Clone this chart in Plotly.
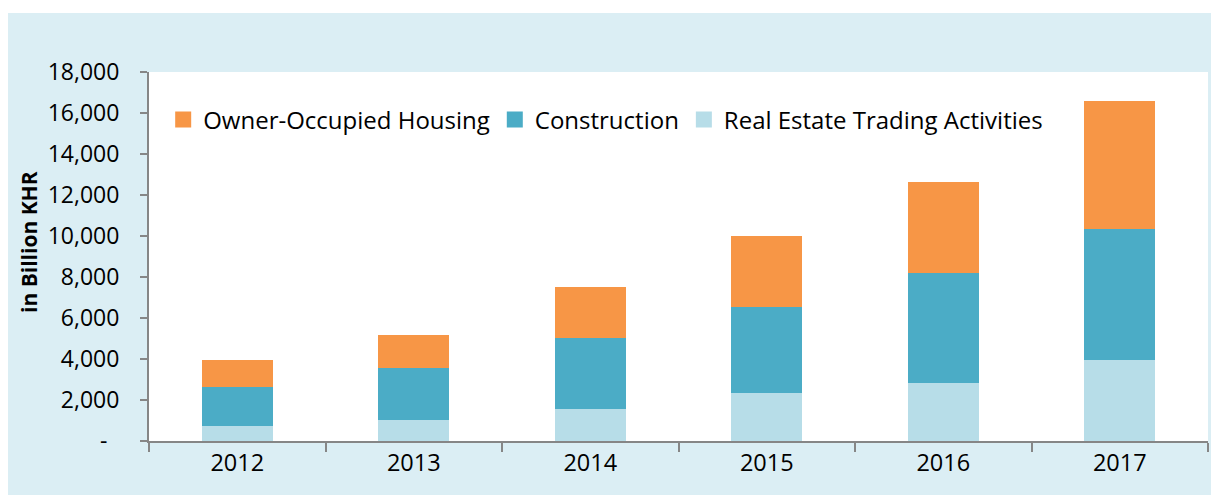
import plotly.graph_objects as go

years = ["2012", "2013", "2014", "2015", "2016", "2017"]
real_estate = [730, 1010, 1560, 2350, 2840, 3960]
construction = [1910, 2570, 3480, 4190, 5360, 6360]
owner_occupied = [1320, 1590, 2480, 3480, 4440, 6280]

y_tickvals = [0, 2000, 4000, 6000, 8000, 10000, 12000, 14000, 16000, 18000]
y_ticktext = ["-\u00a0\u00a0", "2,000", "4,000", "6,000", "8,000", "10,000",
              "12,000", "14,000", "16,000", "18,000"]

FONT = "Open Sans"
series = [
    ("Real Estate Trading Activities", real_estate, "#B7DDE8"),
    ("Construction", construction, "#4BACC6"),
    ("Owner-Occupied Housing", owner_occupied, "#F79646"),
]

fig = go.Figure()
for name, vals, color in series:
    fig.add_trace(go.Bar(x=years, y=vals, name=name, showlegend=False,
                         marker=dict(color=color, line=dict(width=0))))
# legend entries with larger square swatches
for name, vals, color in series:
    fig.add_trace(go.Scatter(x=[None], y=[None], mode="markers", name=name,
                             marker=dict(symbol="square", size=16, color=color),
                             showlegend=True, hoverinfo="skip"))

PW, PH = 1059, 369
fig.update_layout(
    width=1211, height=487,
    barmode="stack", bargap=0.6,
    paper_bgcolor="#DBEEF4", plot_bgcolor="white",
    margin=dict(l=141, r=11, t=64, b=54, pad=0),
    font=dict(family=FONT, size=23, color="black"),
    showlegend=True,
    legend=dict(orientation="h", traceorder="reversed", x=0.0134, y=0.870,
                xanchor="left", yanchor="middle", bgcolor="rgba(0,0,0,0)",
                font=dict(size=24), itemwidth=30, itemsizing="trace"),
    xaxis=dict(showline=True, linecolor="#868686", linewidth=2, ticks="outside",
               tickson="boundaries", ticklen=9, tickcolor="#868686", tickwidth=2,
               showgrid=False, tickfont=dict(size=23.5)),
    yaxis=dict(range=[0, 18000], tickvals=y_tickvals, ticktext=y_ticktext,
               showline=True, linecolor="#868686", linewidth=2, ticks="outside",
               ticklen=7, tickcolor="#868686", tickwidth=2, showgrid=False,
               zeroline=False, tickfont=dict(size=23), ticklabelstandoff=16),
    annotations=[
        dict(text="<b>in Billion KHR</b>", xref="paper", yref="paper",
             x=(29 - 149) / PW, y=(441 - 242) / PH, textangle=-90,
             showarrow=False, xanchor="center", yanchor="middle",
             font=dict(size=21, family=FONT)),
    ],
    shapes=[
        dict(type="rect", xref="paper", yref="paper", x0=-0.3, x1=1.2,
             y0=(441 - 13) / PH, y1=1.4, fillcolor="white", line=dict(width=0),
             layer="below"),
    ],
)

fig.write_html("out.html")
